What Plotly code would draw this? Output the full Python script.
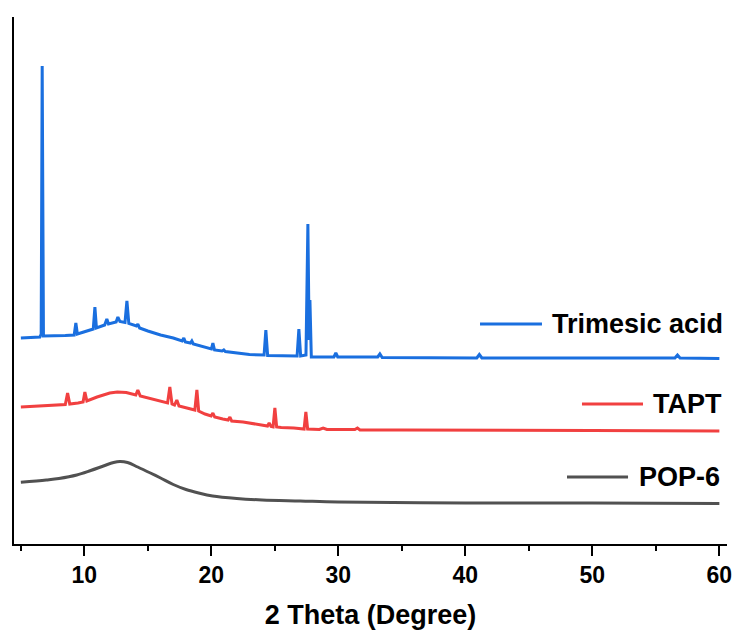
import plotly.graph_objects as go

# ---- Data (2θ in degrees, intensity in arbitrary offset units) ----
pop6_x = [5, 7, 8, 9.4, 10.5, 11.5, 12.3, 12.8, 13.4, 14.2, 15.2, 16, 17, 18, 19, 20.1, 22, 24, 27, 30, 40, 50, 60]
pop6_y = [61.7, 64, 65.5, 69, 73.5, 78, 81.5, 82.5, 81.5, 77, 71, 66, 59.5, 54.5, 51, 48, 45.5, 44, 43, 42, 41, 41, 40.5]

tapt_x = [5.0, 6.5, 8.0, 8.5, 8.68, 8.85, 9.5, 9.9, 10.04, 10.2, 11.0, 12.0, 12.6, 13.3, 14.05,
          14.21, 14.4, 15.0, 16.0, 16.55, 16.73, 16.9, 17.1, 17.28, 17.45, 18.0, 18.7, 18.86, 19.0,
          19.5, 19.98, 20.12, 20.26, 20.9, 21.32, 21.46, 21.6, 22.5, 23.5, 24.42, 24.55, 24.7, 24.86,
          25.0, 25.14, 25.5, 26.5, 27.3, 27.44, 27.58, 28.5, 28.8, 29.1, 31.3, 31.5, 31.7, 35, 40, 50, 60]
tapt_y = [137, 138, 139, 139.5, 151, 140, 141, 142, 152, 143, 147, 151, 152, 151.5, 149,
          154, 148, 146, 142.5, 141, 157, 140, 139, 144, 138, 136, 134, 154, 133,
          130, 128, 131, 127, 125, 124, 127, 123, 122, 120, 118, 121, 117.5, 117,
          136, 117, 116.5, 116, 115, 132, 115, 114.5, 116, 114.5, 114.5, 116, 114, 114, 114, 113.5, 113]

trim_x = [5.0, 6.0, 6.5, 6.6, 6.68, 6.78, 7.5, 8.5, 9.2, 9.33, 9.45, 10.0, 10.7, 10.83, 10.95,
          11.6, 11.77, 11.9, 12.5, 12.64, 12.8, 13.2, 13.35, 13.5, 14.1, 14.21, 14.35, 15.0, 16.0,
          17.0, 17.7, 17.83, 17.95, 18.35, 18.46, 18.58, 19.5, 20.0, 20.12, 20.25, 20.85, 20.98,
          21.1, 22.0, 23.0, 24.15, 24.29, 24.43, 26.0, 26.75, 26.89, 27.03, 27.45, 27.6, 27.7,
          27.76, 27.87, 28.5, 29.65, 29.8, 29.95, 33.1, 33.27, 33.45, 35, 40.9, 41.1, 41.3, 50,
          56.5, 56.7, 56.9, 60]
trim_y = [206, 206.5, 207, 210, 478, 208, 208, 208.5, 209, 221, 210, 212, 215, 237, 216,
          219, 225, 220, 222, 227, 222.5, 221.5, 243, 220.5, 218, 220, 216, 213, 209,
          206, 203, 206, 202, 201, 203, 200, 197, 195, 201, 194, 193, 194,
          192.5, 191, 189.5, 189, 214, 188.5, 188, 188, 215, 188, 189, 320, 204,
          244, 187, 187, 187, 191, 187, 187, 190, 186.5, 186.5, 186, 189.5, 186, 186,
          186, 189, 186, 185.5]

series = [
    ("POP-6", pop6_x, pop6_y, "#515151", "spline"),
    ("TAPT", tapt_x, tapt_y, "#F14040", "linear"),
    ("Trimesic acid", trim_x, trim_y, "#1A6FDF", "linear"),
]

x_ticks = [10, 20, 30, 40, 50, 60]
x_minor = [5, 15, 25, 35, 45, 55]

FONT = "Liberation Sans, Arial, sans-serif"

fig = go.Figure()
for name, xs, ys, col, shp in series:
    fig.add_trace(go.Scatter(x=xs, y=ys, mode="lines", name=name,
                             line=dict(color=col, width=3, shape=shp),
                             showlegend=False))

# legend-like labels placed beside each curve (paper coordinates)
legend_items = [
    ("Trimesic acid", "#1A6FDF", 0.6536, 0.7405, 0.4175, 0.7518),
    ("TAPT", "#F14040", 0.7966, 0.8822, 0.2657, 0.8934),
    ("POP-6", "#515151", 0.7756, 0.8612, 0.1271, 0.8738),
]
for text, col, lx0, lx1, ly, tx in legend_items:
    fig.add_shape(type="line", xref="paper", yref="paper", x0=lx0, x1=lx1, y0=ly, y1=ly,
                  line=dict(color=col, width=3))
    fig.add_annotation(xref="paper", yref="paper", x=tx, y=ly, text=f"<b>{text}</b>",
                       showarrow=False, xanchor="left", yanchor="middle",
                       font=dict(family=FONT, size=27, color="black"))

fig.update_layout(
    width=735, height=630,
    margin=dict(l=14, r=8, t=17, b=86, autoexpand=False),
    plot_bgcolor="white", paper_bgcolor="white",
    font=dict(family=FONT, color="black"),
    xaxis=dict(
        range=[4.46, 60.6], showgrid=False, zeroline=False,
        showline=True, linecolor="black", linewidth=1.5,
        tickvals=x_ticks, ticktext=[f"<b>{v}</b>" for v in x_ticks],
        ticks="outside", ticklen=10, tickwidth=1.5, tickcolor="black",
        tickfont=dict(family=FONT, size=23, color="black"),
        minor=dict(tickvals=x_minor, ticks="outside", ticklen=5,
                   tickwidth=1.5, tickcolor="black"),
        title=dict(text="<b>2 Theta (Degree)</b>", font=dict(family=FONT, size=27, color="black"),
                   standoff=20),
    ),
    yaxis=dict(
        range=[0, 527], showgrid=False, zeroline=False, showticklabels=False,
        showline=True, linecolor="black", linewidth=1.5, ticks="",
    ),
)

fig.write_html("out.html", config={"displayModeBar": False},
               post_script="document.body.style.margin='0';document.body.style.overflow='hidden';")
